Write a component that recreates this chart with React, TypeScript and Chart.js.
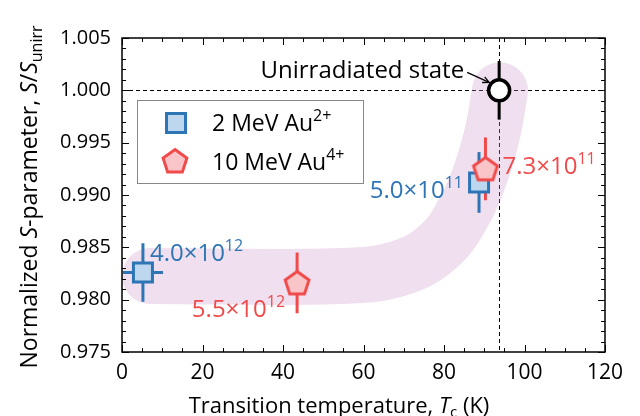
import React, { useEffect, useRef } from "react";
import { Chart, registerables } from "chart.js";
Chart.register(...registerables);

const FONT = "'Open Sans', 'Noto Sans', sans-serif";

// ---- data ----
const xTickValues = [0, 20, 40, 60, 80, 100, 120];
const yTickValues = [0.975, 0.98, 0.985, 0.99, 0.995, 1.0, 1.005];

const blueT = [5.2, 88.7];
const blueS = [0.9826, 0.9912];
const blueTErr = [5.0, 0];
const blueSErr = [0.0028, 0.0029];
const blueFluenceMant = ["4.0", "5.0"];
const blueFluenceExp = ["12", "11"];

const redT = [43.5, 90.3];
const redS = [0.9816, 0.9925];
const redTErr = [0, 0];
const redSErr = [0.0029, 0.003];
const redFluenceMant = ["5.5", "7.3"];
const redFluenceExp = ["12", "11"];

const unirrT = [93.7];
const unirrS = [1.0];
const unirrSErr = [0.0028];

const bandT = [7, 54.2, 69.1, 79.0, 85.2, 89.4, 92.2, 93.9];
const bandS = [0.98226, 0.98226, 0.98303, 0.98522, 0.98857, 0.99239, 0.99621, 0.99999];

const BLUE = "#2e75b6";
const BLUE_FILL = "#bdd7ee";
const RED = "#f04a4a";
const RED_FILL = "#f9c5c8";

function makeSquare(): HTMLCanvasElement {
  const c = document.createElement("canvas");
  c.width = 24; c.height = 24;
  const g = c.getContext("2d")!;
  g.fillStyle = BLUE_FILL;
  g.strokeStyle = BLUE;
  g.lineWidth = 3;
  g.fillRect(2.5, 2.5, 19, 19);
  g.strokeRect(2.5, 2.5, 19, 19);
  return c;
}
function makePentagon(): HTMLCanvasElement {
  const c = document.createElement("canvas");
  c.width = 30; c.height = 30;
  const g = c.getContext("2d")!;
  const cx = 15, cy = 16, r = 12.5;
  g.beginPath();
  for (let i = 0; i < 5; i++) {
    const a = -Math.PI / 2 + (i * 2 * Math.PI) / 5;
    const px = cx + r * Math.cos(a), py = cy + r * Math.sin(a);
    if (i === 0) g.moveTo(px, py); else g.lineTo(px, py);
  }
  g.closePath();
  g.fillStyle = RED_FILL;
  g.fill();
  g.strokeStyle = RED;
  g.lineWidth = 3;
  g.lineJoin = "miter";
  g.stroke();
  return c;
}

type Part = { t: string; italic?: boolean; sub?: boolean; sup?: boolean };

function drawRich(ctx: CanvasRenderingContext2D, parts: Part[], x: number, y: number, size: number, align: "left" | "center" | "right", color: string) {
  const fontFor = (p: Part) => `${p.italic ? "italic " : ""}${p.sub || p.sup ? Math.round(size * 0.68) : size}px ${FONT}`;
  let total = 0;
  const widths = parts.map((p) => { ctx.font = fontFor(p); const w = ctx.measureText(p.t).width; total += w; return w; });
  let cx = align === "left" ? x : align === "center" ? x - total / 2 : x - total;
  ctx.fillStyle = color;
  ctx.textAlign = "left";
  ctx.textBaseline = "alphabetic";
  parts.forEach((p, i) => {
    ctx.font = fontFor(p);
    let yy = y;
    if (p.sub) yy = y + size * 0.2;
    if (p.sup) yy = y - size * 0.42;
    ctx.fillText(p.t, cx, yy);
    cx += widths[i];
  });
}

const sci = (m: string, e: string): Part[] => [{ t: m + "\u00d710" }, { t: e, sup: true }];

function makeDecorPlugin(sq: HTMLCanvasElement, pg: HTMLCanvasElement) {
  return {
    id: "decor",
    beforeDatasetsDraw(chart: any) {
      const { ctx, chartArea: a, scales } = chart;
      const xs = scales.x, ys = scales.y;
      ctx.save();
      ctx.strokeStyle = "#000";
      ctx.lineWidth = 1;
      ctx.setLineDash([4, 3]);
      const yy = Math.round(ys.getPixelForValue(unirrS[0])) + 0.5;
      ctx.beginPath(); ctx.moveTo(a.left, yy); ctx.lineTo(a.right, yy); ctx.stroke();
      const xx = Math.round(xs.getPixelForValue(unirrT[0])) + 0.5;
      ctx.beginPath(); ctx.moveTo(xx, a.top); ctx.lineTo(xx, a.bottom); ctx.stroke();
      ctx.restore();
    },
    afterDatasetDraw(chart: any, args: any) {
      if (args.index !== 0) return;
      const { ctx, scales } = chart;
      const xs = scales.x, ys = scales.y;
      ctx.save();
      ctx.lineWidth = 3;
      ctx.lineCap = "butt";
      const bars = (T: number[], S: number[], TE: number[], SE: number[], color: string) => {
        ctx.strokeStyle = color;
        T.forEach((t, i) => {
          const px = xs.getPixelForValue(t);
          const py = ys.getPixelForValue(S[i]);
          ctx.beginPath();
          ctx.moveTo(px, ys.getPixelForValue(S[i] - SE[i]));
          ctx.lineTo(px, ys.getPixelForValue(S[i] + SE[i]));
          if (TE[i] > 0) {
            ctx.moveTo(xs.getPixelForValue(t - TE[i]), py);
            ctx.lineTo(xs.getPixelForValue(t + TE[i]), py);
          }
          ctx.stroke();
        });
      };
      bars(blueT, blueS, blueTErr, blueSErr, BLUE);
      bars(redT, redS, redTErr, redSErr, RED);
      bars(unirrT, unirrS, [0], unirrSErr, "#000");
      ctx.restore();
    },
    afterDraw(chart: any) {
      const { ctx, chartArea: a, scales } = chart;
      const xs = scales.x, ys = scales.y;
      ctx.save();
      ctx.strokeStyle = "#000";
      ctx.lineWidth = 1.5;
      ctx.strokeRect(a.left, a.top, a.right - a.left, a.bottom - a.top);
      ctx.lineWidth = 1;
      ctx.beginPath();
      for (let v = 0; v <= 120.001; v += 5) {
        const px = Math.round(xs.getPixelForValue(v)) + 0.5;
        const len = Math.abs(v % 20) < 1e-6 ? 7 : 4;
        ctx.moveTo(px, a.bottom); ctx.lineTo(px, a.bottom - len);
        ctx.moveTo(px, a.top); ctx.lineTo(px, a.top + len);
      }
      for (let k = 0; k <= 30; k++) {
        const v = 0.975 + k * 0.001;
        const py = Math.round(ys.getPixelForValue(v)) + 0.5;
        const len = k % 5 === 0 ? 7 : 4;
        ctx.moveTo(a.left, py); ctx.lineTo(a.left + len, py);
        ctx.moveTo(a.right, py); ctx.lineTo(a.right - len, py);
      }
      ctx.stroke();

      drawRich(ctx, [{ t: "Transition temperature, " }, { t: "T", italic: true }, { t: "c", sub: true }, { t: " (K)" }], 339, 413, 22, "center", "#000");
      ctx.save();
      ctx.translate(37, 197);
      ctx.rotate(-Math.PI / 2);
      drawRich(ctx, [
        { t: "Normalized " }, { t: "S", italic: true }, { t: "-parameter, " },
        { t: "S", italic: true }, { t: "/" }, { t: "S", italic: true }, { t: "unirr", sub: true },
      ], 0, 0, 23, "center", "#000");
      ctx.restore();

      const LS = 24;
      const b0x = xs.getPixelForValue(blueT[0]), b0y = ys.getPixelForValue(blueS[0]);
      drawRich(ctx, sci(blueFluenceMant[0], blueFluenceExp[0]), b0x + 7, b0y - 11, LS, "left", BLUE);
      const b1x = xs.getPixelForValue(blueT[1]), b1y = ys.getPixelForValue(blueS[1]);
      drawRich(ctx, sci(blueFluenceMant[1], blueFluenceExp[1]), b1x - 16, b1y + 16, LS, "right", BLUE);
      const r0x = xs.getPixelForValue(redT[0]), r0y = ys.getPixelForValue(redS[0]);
      drawRich(ctx, sci(redFluenceMant[0], redFluenceExp[0]), r0x - 12, r0y + 34, LS, "right", RED);
      const r1x = xs.getPixelForValue(redT[1]), r1y = ys.getPixelForValue(redS[1]);
      drawRich(ctx, sci(redFluenceMant[1], redFluenceExp[1]), r1x + 17, r1y + 5, LS, "left", RED);

      const ux = xs.getPixelForValue(unirrT[0]), uy = ys.getPixelForValue(unirrS[0]);
      drawRich(ctx, [{ t: "Unirradiated state" }], ux - 35, uy - 12, LS, "right", "#000");
      const sx = ux - 32, sy = uy - 18, ex = ux - 10, ey = uy - 8;
      ctx.strokeStyle = "#000";
      ctx.lineWidth = 1.3;
      ctx.setLineDash([]);
      ctx.beginPath(); ctx.moveTo(sx, sy); ctx.lineTo(ex, ey); ctx.stroke();
      const ang = Math.atan2(ey - sy, ex - sx);
      ctx.beginPath();
      ctx.moveTo(ex - 7 * Math.cos(ang - 0.45), ey - 7 * Math.sin(ang - 0.45));
      ctx.lineTo(ex, ey);
      ctx.lineTo(ex - 7 * Math.cos(ang + 0.45), ey - 7 * Math.sin(ang + 0.45));
      ctx.stroke();

      const lx = a.left + 15, ly = a.top + 62;
      ctx.fillStyle = "#fff";
      ctx.fillRect(lx, ly, 226, 83);
      ctx.strokeStyle = "#888";
      ctx.lineWidth = 1;
      ctx.strokeRect(lx + 0.5, ly + 0.5, 226, 83);
      ctx.drawImage(sq, lx + 39 - sq.width / 2, ly + 23 - sq.height / 2);
      ctx.drawImage(pg, lx + 38 - pg.width / 2, ly + 61 - pg.height / 2);
      drawRich(ctx, [{ t: "2 MeV Au" }, { t: "2+", sup: true }], lx + 75, ly + 31, 23, "left", "#000");
      drawRich(ctx, [{ t: "10 MeV Au" }, { t: "4+", sup: true }], lx + 75, ly + 70, 23, "left", "#000");
      ctx.restore();
    },
  };
}

export default function App() {
  const ref = useRef<HTMLCanvasElement | null>(null);
  useEffect(() => {
    document.body.style.margin = "0";
    const sq = makeSquare();
    const pg = makePentagon();
    const chart = new Chart(ref.current!, {
      type: "scatter",
      data: {
        datasets: [
          {
            type: "line",
            order: 5,
            data: bandT.map((t, i) => ({ x: t, y: bandS[i] })),
            borderColor: "rgba(205,150,200,0.3)",
            borderWidth: 56,
            borderCapStyle: "round",
            borderJoinStyle: "round",
            tension: 0.4,
            pointRadius: 0,
            fill: false,
          } as any,
          {
            order: 2,
            data: blueT.map((t, i) => ({ x: t, y: blueS[i] })),
            pointStyle: sq as any,
          },
          {
            order: 1,
            data: redT.map((t, i) => ({ x: t, y: redS[i] })),
            pointStyle: pg as any,
          },
          {
            order: 0,
            data: unirrT.map((t, i) => ({ x: t, y: unirrS[i] })),
            pointStyle: "circle",
            pointRadius: 10.5,
            pointBorderWidth: 3.5,
            pointBackgroundColor: "#fff",
            pointBorderColor: "#000",
          },
        ],
      },
      options: {
        animation: false,
        responsive: false,
        layout: { padding: { top: 38, right: 35, left: 0, bottom: 0 } },
        plugins: { legend: { display: false }, tooltip: { enabled: false } },
        scales: {
          x: {
            type: "linear", min: 0, max: 120,
            afterFit: (s: any) => { s.height = 64; },
            afterBuildTicks: (s: any) => { s.ticks = xTickValues.map((v) => ({ value: v })); },
            grid: { display: false, drawTicks: false },
            border: { display: false },
            ticks: { font: { family: FONT, size: 21 }, color: "#000", padding: 8, maxRotation: 0 },
          },
          y: {
            type: "linear", min: 0.975, max: 1.005,
            afterFit: (s: any) => { s.width = 122; },
            afterBuildTicks: (s: any) => { s.ticks = yTickValues.map((v) => ({ value: v })); },
            grid: { display: false, drawTicks: false },
            border: { display: false },
            ticks: { font: { family: FONT, size: 20 }, color: "#000", padding: 11, callback: (v: any) => Number(v).toFixed(3) },
          },
        },
      },
      plugins: [makeDecorPlugin(sq, pg)],
    } as any);
    return () => chart.destroy();
  }, []);
  return <canvas ref={ref} width={640} height={416} style={{ display: "block" }} />;
}
